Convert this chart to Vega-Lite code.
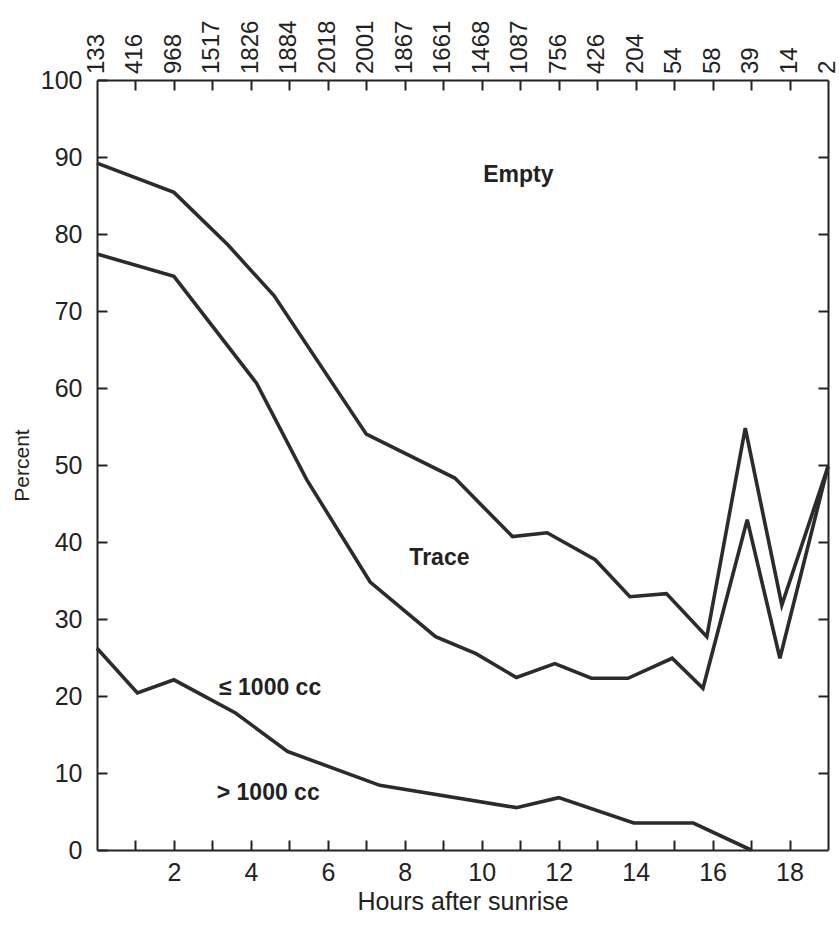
{
  "$schema": "https://vega.github.io/schema/vega-lite/v6.json",
  "width": 731,
  "height": 770,
  "autosize": {"type": "none"},
  "padding": {"left": 97, "top": 80, "right": 11, "bottom": 78},
  "background": "#ffffff",
  "config": {
    "view": {"stroke": null},
    "font": "Liberation Sans",
    "axis": {
      "domainColor": "#222222",
      "domainWidth": 2,
      "tickColor": "#222222",
      "tickWidth": 2,
      "labelFont": "Liberation Sans",
      "labelFontSize": 25,
      "labelColor": "#222222",
      "titleFont": "Liberation Sans",
      "titleFontWeight": "normal",
      "titleColor": "#222222",
      "grid": false
    }
  },
  "datasets": {
    "curves": [
      {"boundary": "Empty/Trace", "hour": 0, "percent": 89.2},
      {"boundary": "Empty/Trace", "hour": 2, "percent": 85.4},
      {"boundary": "Empty/Trace", "hour": 3.4, "percent": 78.6},
      {"boundary": "Empty/Trace", "hour": 4.6, "percent": 72.0},
      {"boundary": "Empty/Trace", "hour": 7.0, "percent": 54.0},
      {"boundary": "Empty/Trace", "hour": 9.3, "percent": 48.3},
      {"boundary": "Empty/Trace", "hour": 10.8, "percent": 40.7},
      {"boundary": "Empty/Trace", "hour": 11.7, "percent": 41.2},
      {"boundary": "Empty/Trace", "hour": 12.95, "percent": 37.7},
      {"boundary": "Empty/Trace", "hour": 13.85, "percent": 32.9},
      {"boundary": "Empty/Trace", "hour": 14.8, "percent": 33.3},
      {"boundary": "Empty/Trace", "hour": 15.85, "percent": 27.7},
      {"boundary": "Empty/Trace", "hour": 16.85, "percent": 54.8},
      {"boundary": "Empty/Trace", "hour": 17.8, "percent": 31.8},
      {"boundary": "Empty/Trace", "hour": 19, "percent": 49.8},
      {"boundary": "Trace/<=1000", "hour": 0, "percent": 77.4},
      {"boundary": "Trace/<=1000", "hour": 2, "percent": 74.5},
      {"boundary": "Trace/<=1000", "hour": 4.15, "percent": 60.6},
      {"boundary": "Trace/<=1000", "hour": 5.45, "percent": 48.1},
      {"boundary": "Trace/<=1000", "hour": 7.1, "percent": 34.8},
      {"boundary": "Trace/<=1000", "hour": 8.8, "percent": 27.7},
      {"boundary": "Trace/<=1000", "hour": 9.85, "percent": 25.5},
      {"boundary": "Trace/<=1000", "hour": 10.9, "percent": 22.4},
      {"boundary": "Trace/<=1000", "hour": 11.9, "percent": 24.2},
      {"boundary": "Trace/<=1000", "hour": 12.85, "percent": 22.3},
      {"boundary": "Trace/<=1000", "hour": 13.8, "percent": 22.3},
      {"boundary": "Trace/<=1000", "hour": 14.95, "percent": 24.9},
      {"boundary": "Trace/<=1000", "hour": 15.75, "percent": 21.0},
      {"boundary": "Trace/<=1000", "hour": 16.9, "percent": 42.9},
      {"boundary": "Trace/<=1000", "hour": 17.75, "percent": 24.9},
      {"boundary": "Trace/<=1000", "hour": 19, "percent": 49.8},
      {"boundary": "<=1000/>1000", "hour": 0, "percent": 26.2},
      {"boundary": "<=1000/>1000", "hour": 1.05, "percent": 20.4},
      {"boundary": "<=1000/>1000", "hour": 2, "percent": 22.1},
      {"boundary": "<=1000/>1000", "hour": 3.6, "percent": 17.8},
      {"boundary": "<=1000/>1000", "hour": 4.95, "percent": 12.8},
      {"boundary": "<=1000/>1000", "hour": 7.35, "percent": 8.4},
      {"boundary": "<=1000/>1000", "hour": 10.9, "percent": 5.5},
      {"boundary": "<=1000/>1000", "hour": 12, "percent": 6.8},
      {"boundary": "<=1000/>1000", "hour": 13.95, "percent": 3.5},
      {"boundary": "<=1000/>1000", "hour": 15.5, "percent": 3.5},
      {"boundary": "<=1000/>1000", "hour": 17, "percent": 0}
    ],
    "counts": [
      {"hour": 0, "n": "133"}, {"hour": 1, "n": "416"}, {"hour": 2, "n": "968"},
      {"hour": 3, "n": "1517"}, {"hour": 4, "n": "1826"}, {"hour": 5, "n": "1884"},
      {"hour": 6, "n": "2018"}, {"hour": 7, "n": "2001"}, {"hour": 8, "n": "1867"},
      {"hour": 9, "n": "1661"}, {"hour": 10, "n": "1468"}, {"hour": 11, "n": "1087"},
      {"hour": 12, "n": "756"}, {"hour": 13, "n": "426"}, {"hour": 14, "n": "204"},
      {"hour": 15, "n": "54"}, {"hour": 16, "n": "58"}, {"hour": 17, "n": "39"},
      {"hour": 18, "n": "14"}, {"hour": 19, "n": "2"}
    ],
    "zones": [
      {"label": "Empty", "hour": 10.95, "percent": 87.7},
      {"label": "Trace", "hour": 8.9, "percent": 37.9},
      {"label": "≤ 1000 cc", "hour": 4.5, "percent": 21.0},
      {"label": "> 1000 cc", "hour": 4.45, "percent": 7.4}
    ]
  },
  "layer": [
    {
      "data": {"name": "curves"},
      "mark": {"type": "line", "strokeWidth": 3.6, "color": "#2b2b2b"},
      "encoding": {
        "x": {
          "field": "hour", "type": "quantitative",
          "scale": {"domain": [0, 19], "nice": false, "zero": false},
          "axis": {
            "orient": "bottom",
            "values": [1, 2, 3, 4, 5, 6, 7, 8, 9, 10, 11, 12, 13, 14, 15, 16, 17, 18],
            "tickSize": -10,
            "labelPadding": 20,
            "labelExpr": "datum.value % 2 == 0 ? datum.label : ''",
            "title": "Hours after sunrise",
            "titleFontSize": 25,
            "titlePadding": 4
          }
        },
        "y": {
          "field": "percent", "type": "quantitative",
          "scale": {"domain": [0, 100], "nice": false},
          "axis": {
            "orient": "left",
            "values": [0, 10, 20, 30, 40, 50, 60, 70, 80, 90, 100],
            "tickSize": -10,
            "labelPadding": 25,
            "title": "Percent",
            "titleFontSize": 21,
            "titlePadding": 8
          }
        },
        "detail": {"field": "boundary"}
      }
    },
    {
      "data": {"name": "counts"},
      "mark": {"type": "text", "angle": 270, "align": "left", "baseline": "middle", "dx": 6, "fontSize": 24, "color": "#222222"},
      "encoding": {
        "x": {
          "field": "hour", "type": "quantitative",
          "axis": {
            "orient": "top",
            "values": [1, 2, 3, 4, 5, 6, 7, 8, 9, 10, 11, 12, 13, 14, 15, 16, 17, 18],
            "tickSize": -10,
            "labels": false,
            "title": null
          }
        },
        "y": {
          "datum": 100, "type": "quantitative",
          "axis": {
            "orient": "right",
            "values": [10, 20, 30, 40, 50, 60, 70, 80, 90],
            "tickSize": -10,
            "labels": false,
            "title": null
          }
        },
        "text": {"field": "n"}
      }
    },
    {
      "data": {"name": "zones"},
      "mark": {"type": "text", "fontWeight": "bold", "fontSize": 23, "color": "#222222", "align": "center", "baseline": "middle"},
      "encoding": {
        "x": {"field": "hour", "type": "quantitative", "axis": null},
        "y": {"field": "percent", "type": "quantitative", "axis": null},
        "text": {"field": "label"}
      }
    }
  ],
  "resolve": {"axis": {"x": "independent", "y": "independent"}}
}
